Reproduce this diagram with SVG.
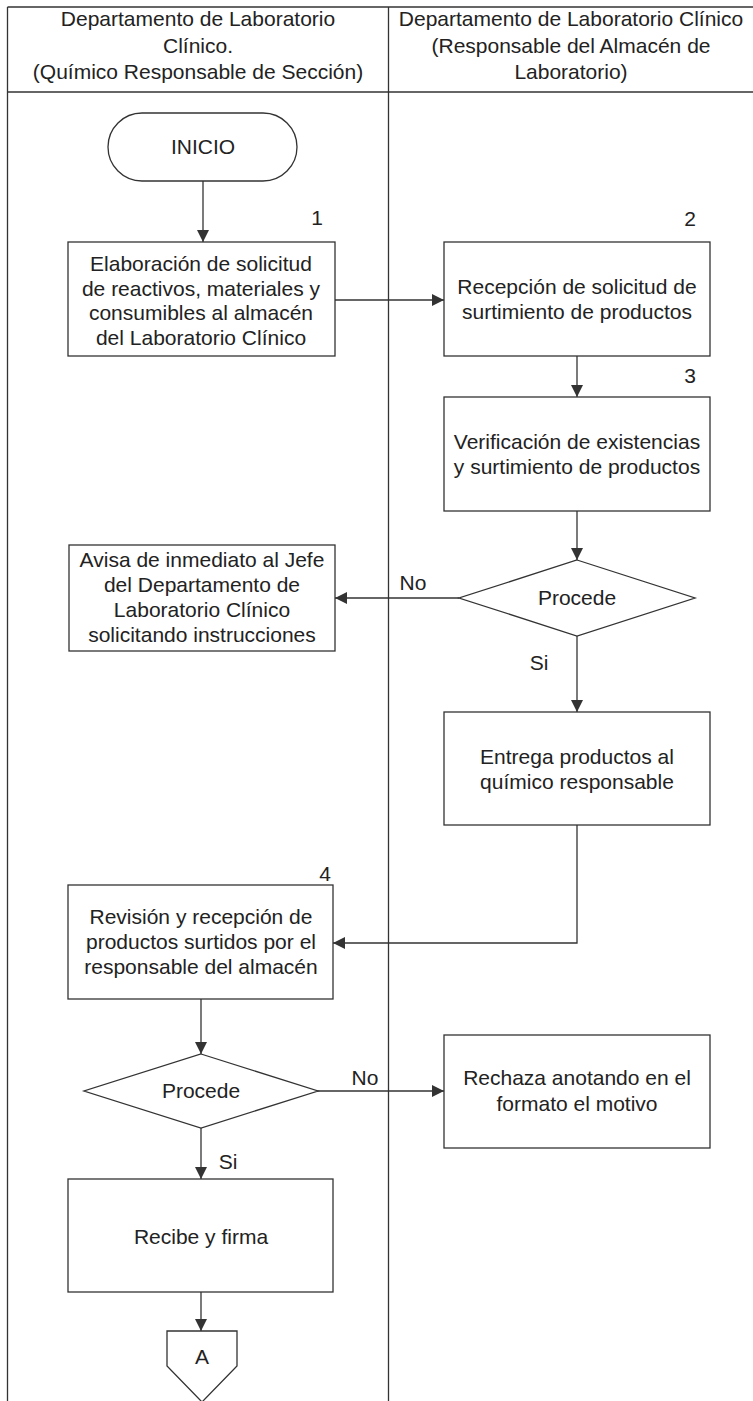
<svg xmlns="http://www.w3.org/2000/svg" width="753" height="1401" viewBox="0 0 753 1401">
<defs>
<style>
.t{font-family:"Liberation Sans",Arial,sans-serif;font-size:21px;fill:#222;text-anchor:middle}
.b{fill:#fff;stroke:#333;stroke-width:1.3}
.g{stroke:#333;stroke-width:1.3;fill:none}
.c{stroke:#333;stroke-width:1.3;fill:none;marker-end:url(#ah)}
</style>
<marker id="ah" markerUnits="userSpaceOnUse" markerWidth="13" markerHeight="12" refX="12" refY="6" orient="auto">
<path d="M0,0 L12,6 L0,12 z" fill="#333"/>
</marker>
</defs>
<rect width="753" height="1401" fill="#fff"/>
<g id="swimlanes">
<line class="g" x1="7.5" y1="7" x2="753" y2="7"/>
<line class="g" x1="7.5" y1="92" x2="753" y2="92"/>
<line class="g" x1="7.5" y1="7" x2="7.5" y2="1401"/>
<line class="g" x1="388.5" y1="7" x2="388.5" y2="1401"/>
<text class="t" x="198" y="26">Departamento de Laboratorio</text>
<text class="t" x="198" y="53">Clínico.</text>
<text class="t" x="198" y="79">(Químico Responsable de Sección)</text>
<text class="t" x="571" y="26">Departamento de Laboratorio Clínico</text>
<text class="t" x="571" y="53">(Responsable del Almacén de</text>
<text class="t" x="571" y="79">Laboratorio)</text>
</g>
<g id="connectors">
<line class="c" x1="203" y1="181" x2="203" y2="242"/>
<line class="c" x1="335" y1="300" x2="444" y2="300"/>
<line class="c" x1="577" y1="356" x2="577" y2="397"/>
<line class="c" x1="577" y1="511" x2="577" y2="560"/>
<line class="c" x1="459" y1="598" x2="335" y2="598"/>
<line class="c" x1="577" y1="636" x2="577" y2="712"/>
<polyline class="c" points="577,825 577,943 333,943"/>
<line class="c" x1="201" y1="999" x2="201" y2="1054"/>
<line class="c" x1="317" y1="1091" x2="444" y2="1091"/>
<line class="c" x1="201" y1="1128" x2="201" y2="1179"/>
<line class="c" x1="201" y1="1292" x2="201" y2="1331"/>
<text class="t" x="413" y="590">No</text>
<text class="t" x="539" y="670">Si</text>
<text class="t" x="365" y="1085">No</text>
<text class="t" x="228" y="1169">Si</text>
</g>
<g id="inicio">
<rect class="b" x="108" y="113" width="189" height="68" rx="34" ry="34"/>
<text class="t" x="203" y="154">INICIO</text>
</g>
<g id="step1">
<rect class="b" x="68" y="242" width="267" height="114"/>
<text class="t" x="317" y="225">1</text>
<text class="t" x="201" y="271">Elaboración de solicitud</text>
<text class="t" x="201" y="296">de reactivos, materiales y</text>
<text class="t" x="201" y="320">consumibles al almacén</text>
<text class="t" x="201" y="345">del Laboratorio Clínico</text>
</g>
<g id="step2">
<rect class="b" x="444" y="242" width="266" height="114"/>
<text class="t" x="690" y="226">2</text>
<text class="t" x="577" y="294">Recepción de solicitud de</text>
<text class="t" x="577" y="319">surtimiento de productos</text>
</g>
<g id="step3">
<rect class="b" x="444" y="397" width="266" height="114"/>
<text class="t" x="690" y="383">3</text>
<text class="t" x="577" y="449">Verificación de existencias</text>
<text class="t" x="577" y="474">y surtimiento de productos</text>
</g>
<g id="decision1">
<polygon class="b" points="577,560 695,598 577,636 459,598"/>
<text class="t" x="577" y="605">Procede</text>
</g>
<g id="avisa">
<rect class="b" x="69" y="545" width="266" height="106"/>
<text class="t" x="202" y="567">Avisa de inmediato al Jefe</text>
<text class="t" x="202" y="592">del Departamento de</text>
<text class="t" x="202" y="617">Laboratorio Clínico</text>
<text class="t" x="202" y="642">solicitando instrucciones</text>
</g>
<g id="entrega">
<rect class="b" x="444" y="712" width="266" height="113"/>
<text class="t" x="577" y="764">Entrega productos al</text>
<text class="t" x="577" y="789">químico responsable</text>
</g>
<g id="step4">
<rect class="b" x="68" y="885" width="265" height="114"/>
<text class="t" x="325" y="881">4</text>
<text class="t" x="201" y="924">Revisión y recepción de</text>
<text class="t" x="201" y="949">productos surtidos por el</text>
<text class="t" x="201" y="974">responsable del almacén</text>
</g>
<g id="decision2">
<polygon class="b" points="201,1054 318,1091 201,1128 84,1091"/>
<text class="t" x="201" y="1098">Procede</text>
</g>
<g id="rechaza">
<rect class="b" x="444" y="1035" width="266" height="113"/>
<text class="t" x="577" y="1085">Rechaza anotando en el</text>
<text class="t" x="577" y="1111">formato el motivo</text>
</g>
<g id="recibe">
<rect class="b" x="68" y="1179" width="265" height="113"/>
<text class="t" x="201" y="1244">Recibe y firma</text>
</g>
<g id="connectorA">
<polygon class="b" points="167,1331 237,1331 237,1366 202,1402 167,1366"/>
<text class="t" x="202" y="1364">A</text>
</g>
</svg>
